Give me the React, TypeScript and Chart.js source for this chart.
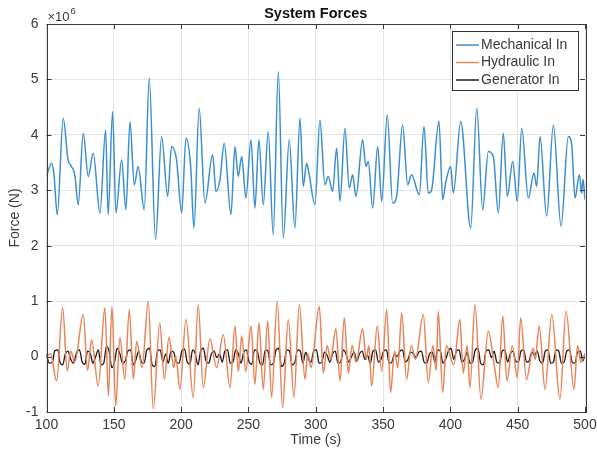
import React, { useEffect, useRef } from "react";
import { Chart, registerables } from "chart.js";

Chart.register(...registerables);

// Values are in units of 10^6 N (axis shows "×10^6")
const mechT = [100, 103.8, 105.5, 108, 112.4, 116, 118.5, 121, 123.6, 127.3, 131, 134.7, 139.7, 143.9, 145.8, 149.1, 151.6, 155.8, 159, 162, 165.2, 168.1, 172.6, 176.3, 181, 185.5, 190, 192.9, 196.6, 200.4, 203.6, 207.1, 209.5, 213.4, 217.7, 223.4, 225.9, 228.8, 232, 237, 240, 242.4, 245, 248.1, 251.9, 254.8, 257.8, 261, 264.7, 268.4, 272.2, 275.9, 280.3, 284.5, 288.3, 290.7, 293.2, 295, 299.4, 303.1, 306.8, 309.3, 312.5, 315.5, 318, 321.7, 324.9, 327.4, 329.9, 334.8, 337.3, 339, 342.3, 346, 349, 353.1, 357.1, 360.1, 364.5, 368.3, 371.2, 376.9, 380.4, 383.6, 386, 391.5, 394.3, 396.7, 400.2, 402.2, 407.7, 415.1, 419.6, 424, 428.2, 431.9, 435.6, 439.3, 442.3, 446.3, 449.7, 453, 457.9, 462.1, 464.1, 466.6, 471.5, 476.5, 482.2, 487.6, 490, 492.6, 495.8, 497.5, 498.5, 500];
const mechV = [3.25, 3.49, 3.3, 2.56, 4.3, 3.55, 3.43, 3.28, 2.74, 4.03, 3.25, 3.67, 2.59, 4.09, 2.56, 4.42, 2.59, 3.55, 2.65, 4.24, 3.1, 3.43, 2.65, 5.02, 2.11, 3.97, 2.89, 3.79, 3.55, 2.59, 3.94, 3.43, 2.32, 4.48, 2.77, 3.64, 2.98, 3.19, 3.85, 2.56, 3.79, 3.25, 3.61, 2.86, 3.91, 2.68, 3.91, 2.74, 4.06, 2.2, 5.14, 2.14, 3.91, 2.32, 4.3, 3.07, 3.49, 3.3, 2.74, 4.27, 3.1, 3.25, 2.98, 3.76, 2.8, 4.12, 3.04, 3.28, 2.89, 3.91, 3.43, 3.52, 2.68, 3.79, 2.8, 4.36, 2.77, 2.89, 4.18, 3.1, 3.28, 2.92, 4.15, 2.95, 3.0, 4.25, 2.83, 3.16, 3.43, 2.95, 4.24, 2.32, 4.48, 2.65, 3.7, 3.61, 2.59, 4.03, 2.89, 3.52, 2.8, 4.12, 2.86, 3.31, 3.07, 3.97, 2.53, 4.18, 2.35, 3.97, 3.85, 2.86, 3.28, 2.95, 3.2, 2.83];

const hydT = [100, 103, 107.5, 112, 115.4, 118, 121, 127.3, 130.5, 133.5, 138.4, 143.4, 146, 148.6, 151.4, 154.5, 158.2, 161.5, 164.5, 167, 171, 175.6, 179.3, 184.2, 187.5, 191, 194.5, 196, 199.1, 203.6, 209, 212.7, 216.4, 221.4, 226.4, 231.3, 236.3, 240, 242.5, 245, 248, 251.9, 254.8, 257.8, 261, 264.3, 267.2, 271.4, 275.4, 279.6, 283.8, 287.8, 292, 294, 296.5, 302.6, 305.6, 308.5, 311, 315, 318, 321.2, 324.2, 327, 330, 334.8, 337.5, 339.5, 341.5, 345.7, 349, 352.7, 355.6, 358.5, 361, 363.8, 367.5, 371, 374, 379.9, 383.6, 387, 389.5, 391, 394.3, 397, 402.5, 407.1, 409.5, 412.5, 414.5, 418.3, 422.7, 428.2, 432, 435.6, 438.9, 442, 446, 449.7, 452.2, 456.5, 461.5, 463, 466, 470.3, 475.3, 481.4, 485.9, 491.8, 494.5, 497, 500];
const hydV = [0.0, 0.05, -0.44, 0.88, -0.26, 0.1, -0.1, 0.76, -0.25, 0.3, -0.53, 0.88, -0.71, 0.91, -0.89, 0.34, -0.41, 0.85, -0.41, 0.27, -0.2, 1.0, -0.95, 0.61, -0.41, 0.35, -0.2, 0.0, -0.59, 0.67, -0.74, 0.94, -0.56, 0.32, -0.2, 0.4, -0.56, 0.55, -0.27, 0.37, -0.27, 0.55, -0.5, 0.61, -0.59, 0.64, -0.74, 1.0, -0.92, 0.67, -0.74, 0.94, -0.41, 0.05, -0.2, 0.91, -0.3, 0.2, -0.05, 0.5, -0.44, 0.7, -0.3, 0.2, -0.1, 0.5, -0.05, 0.2, -0.53, 0.55, -0.27, 0.85, -0.65, 0.1, -0.2, 0.79, -0.41, 0.2, -0.05, 0.76, -0.47, 0.2, -0.25, 0.82, -0.65, 0.2, -0.15, 0.67, -0.3, 0.2, -0.56, 0.94, -0.77, 0.46, -0.05, -0.56, 0.73, -0.44, 0.2, -0.38, 0.7, -0.41, 0.15, -0.05, 0.55, -0.59, 0.76, -0.77, 0.82, -0.59, 0.2, -0.1, 0.05];

const genT = [100, 102, 104.5, 106, 108.5, 110, 112, 114, 116, 118, 120, 122.5, 124.5, 126.5, 128.5, 130.5, 132.5, 134.5, 136.5, 138.5, 140.5, 142.5, 144.5, 146.5, 148.5, 150.5, 152.5, 154.5, 156.5, 158.5, 160.5, 162.5, 164.5, 166.5, 168.5, 170.5, 172.5, 174.5, 176.5, 178.5, 180.5, 182.5, 184.5, 186.5, 188.5, 190.5, 192.5, 194.5, 196.5, 198.5, 200.5, 202.5, 204.5, 206.5, 208.5, 210.5, 212.5, 214.5, 216.5, 218.5, 220.5, 222.5, 224.5, 226.5, 228.5, 230.5, 232.5, 234.5, 236.5, 238.5, 240.5, 242.5, 244.5, 246.5, 248.5, 250.5, 252.5, 254.5, 256.5, 258.5, 260.5, 262.5, 264.5, 266.5, 268.5, 270.5, 272.5, 274.5, 276.5, 278.5, 280.5, 282.5, 284.5, 286.5, 288.5, 290.5, 292.5, 294.5, 296.5, 298.5, 300.5, 302.5, 304.5, 306.5, 308.5, 310.5, 312.5, 314.5, 316.5, 318.5, 320.5, 322.5, 324.5, 326.5, 328.5, 330.5, 332.5, 334.5, 336.5, 338.5, 340.5, 342.5, 344.5, 346.5, 348.5, 350.5, 352.5, 354.5, 356.5, 358.5, 360.5, 362.5, 364.5, 366.5, 368.5, 370.5, 372.5, 374.5, 376.5, 378.5, 380.5, 382.5, 384.5, 386.5, 388.5, 390.5, 392.5, 394.5, 396.5, 398.5, 400.5, 402.5, 404.5, 406.5, 408.5, 410.5, 412.5, 414.5, 416.5, 418.5, 420.5, 422.5, 424.5, 426.5, 428.5, 430.5, 432.5, 434.5, 436.5, 438.5, 440.5, 442.5, 444.5, 446.5, 448.5, 450.5, 452.5, 454.5, 456.5, 458.5, 460.5, 462.5, 464.5, 466.5, 468.5, 470.5, 472.5, 474.5, 476.5, 478.5, 480.5, 482.5, 484.5, 486.5, 488.5, 490.5, 492.5, 494.5, 496.5, 498.5, 500];
const genV = [0.05, -0.12, -0.1, 0.1, 0.12, -0.1, -0.15, 0.05, 0.1, -0.05, -0.12, 0.08, 0.12, -0.1, -0.14, 0.1, 0.06, -0.12, 0.0, 0.12, -0.15, -0.12, 0.18, 0.1, -0.2, -0.1, 0.15, 0.05, -0.12, -0.08, 0.1, 0.12, -0.15, -0.05, 0.1, -0.1, -0.12, 0.12, 0.15, -0.15, -0.18, 0.1, 0.12, -0.1, 0.05, -0.12, 0.1, 0.08, -0.1, -0.12, 0.1, 0.14, -0.1, -0.14, 0.12, 0.05, -0.15, 0.1, 0.15, -0.08, -0.12, 0.05, 0.1, -0.02, 0.05, -0.1, 0.1, 0.12, -0.12, -0.1, 0.12, 0.05, -0.12, 0.08, 0.12, -0.1, -0.14, 0.12, 0.1, -0.12, -0.15, 0.12, 0.1, -0.15, -0.12, 0.12, 0.15, -0.18, -0.12, 0.12, 0.1, -0.15, -0.1, 0.12, 0.1, -0.12, 0.08, -0.05, -0.1, 0.1, 0.12, -0.12, -0.1, 0.08, 0.02, -0.1, 0.05, 0.1, -0.12, -0.1, 0.12, 0.05, -0.1, 0.0, 0.08, -0.08, 0.05, 0.1, -0.05, 0.02, -0.12, 0.1, 0.12, -0.1, -0.05, 0.1, 0.12, -0.12, -0.1, 0.05, 0.0, 0.1, 0.12, -0.1, -0.05, 0.08, 0.05, -0.02, 0.08, 0.1, -0.1, -0.12, 0.05, 0.08, -0.1, 0.12, 0.1, -0.12, -0.05, 0.1, 0.15, -0.05, 0.1, 0.12, -0.1, -0.05, 0.08, -0.12, -0.1, 0.12, 0.15, -0.12, -0.15, 0.1, 0.12, -0.02, 0.1, -0.1, -0.12, 0.1, 0.12, -0.1, 0.05, 0.1, -0.08, -0.1, 0.1, 0.12, -0.1, -0.08, 0.08, 0.02, 0.1, -0.08, -0.12, 0.1, 0.12, -0.12, -0.1, 0.12, 0.1, -0.12, -0.1, 0.1, 0.12, -0.1, -0.12, 0.08, 0.1, -0.08, 0.05];

const seriesLabels = ["Mechanical In", "Hydraulic In", "Generator In"];
const seriesColors = ["#3b8fd0", "#e8845a", "#1c1c1c"];
const xTickValues = [100, 150, 200, 250, 300, 350, 400, 450, 500];
const yTickValues = [-1, 0, 1, 2, 3, 4, 5, 6];
const chartTitle = "System Forces";
const xTitle = "Time (s)";
const yTitle = "Force (N)";
const exponentLabel = "6";

const FONT = "'Liberation Sans', Arial, Helvetica, sans-serif";
const AXIS_COLOR = "#3a3a3a";
const TEXT_COLOR = "#3a3a3a";

const framePlugin = {
  id: "matlabFrame",
  afterDatasetsDraw(chart: any) {
    const { ctx, chartArea: a, scales } = chart;
    ctx.save();
    ctx.strokeStyle = AXIS_COLOR;
    ctx.lineWidth = 1;
    // inward ticks
    const tl = 5;
    ctx.beginPath();
    xTickValues.forEach((v) => {
      const x = Math.round(scales.x.getPixelForValue(v)) + 0.5;
      ctx.moveTo(x, a.bottom);
      ctx.lineTo(x, a.bottom - tl);
      ctx.moveTo(x, a.top);
      ctx.lineTo(x, a.top + tl);
    });
    yTickValues.forEach((v) => {
      const y = Math.round(scales.y.getPixelForValue(v)) + 0.5;
      ctx.moveTo(a.left, y);
      ctx.lineTo(a.left + tl, y);
      ctx.moveTo(a.right, y);
      ctx.lineTo(a.right - tl, y);
    });
    ctx.stroke();
    ctx.strokeRect(Math.round(a.left) + 0.5, Math.round(a.top) + 0.5, Math.round(a.right - a.left), Math.round(a.bottom - a.top));

    // legend box inside the axes (top-right)
    const bx = 452, by = 31, bw = 126, bh = 59;
    ctx.fillStyle = "#ffffff";
    ctx.fillRect(bx, by, bw, bh);
    ctx.strokeStyle = "#333333";
    ctx.strokeRect(bx + 0.5, by + 0.5, bw, bh);
    ctx.font = `14px ${FONT}`;
    ctx.textBaseline = "middle";
    ctx.textAlign = "left";
    seriesLabels.forEach((lab, i) => {
      const y = by + 14 + i * 17.5;
      ctx.strokeStyle = seriesColors[i];
      ctx.lineWidth = 1.5;
      ctx.beginPath();
      ctx.moveTo(bx + 4, y);
      ctx.lineTo(bx + 27, y);
      ctx.stroke();
      ctx.fillStyle = TEXT_COLOR;
      ctx.fillText(lab, bx + 29, y);
    });

    // title
    ctx.fillStyle = "#111111";
    ctx.font = `bold 14.5px ${FONT}`;
    ctx.textAlign = "center";
    ctx.fillText(chartTitle, (a.left + a.right) / 2, 14);

    // exponent label
    ctx.fillStyle = TEXT_COLOR;
    ctx.textAlign = "left";
    ctx.font = `13px ${FONT}`;
    const base = "\u00d710";
    ctx.fillText(base, a.left + 1, 17);
    const w = ctx.measureText(base).width;
    ctx.font = `9.5px ${FONT}`;
    ctx.fillText(exponentLabel, a.left + 2 + w, 11);
    ctx.restore();
  },
};

export default function App() {
  const ref = useRef<HTMLCanvasElement | null>(null);

  useEffect(() => {
    document.body.style.margin = "0";
    const pts = (t: number[], v: number[]) => t.map((x, i) => ({ x, y: v[i] }));
    const chart = new Chart(ref.current as HTMLCanvasElement, {
      type: "line",
      data: {
        datasets: [
          { label: seriesLabels[0], data: pts(mechT, mechV), borderColor: seriesColors[0], borderWidth: 1.5, cubicInterpolationMode: "monotone", pointRadius: 0 },
          { label: seriesLabels[1], data: pts(hydT, hydV), borderColor: seriesColors[1], borderWidth: 1.5, cubicInterpolationMode: "monotone", pointRadius: 0 },
          { label: seriesLabels[2], data: pts(genT, genV), borderColor: seriesColors[2], borderWidth: 1.3, cubicInterpolationMode: "monotone", pointRadius: 0 },
        ],
      } as any,
      options: {
        responsive: false,
        animation: false,
        events: [],
        layout: { padding: { top: 24, right: 12, left: 0, bottom: 0 } },
        plugins: { legend: { display: false }, title: { display: false }, tooltip: { enabled: false } },
        scales: {
          x: {
            type: "linear",
            min: 100,
            max: 500,
            afterBuildTicks: (s: any) => { s.ticks = xTickValues.map((value) => ({ value })); },
            afterFit: (s: any) => { s.height = 43; s.paddingLeft = 0; s.paddingRight = 0; },
            grid: { color: "#e4e4e4", drawTicks: false, lineWidth: 1 },
            border: { display: false },
            ticks: { color: TEXT_COLOR, font: { family: FONT, size: 14 }, padding: 5, maxRotation: 0, autoSkip: false },
            title: { display: true, text: xTitle, color: TEXT_COLOR, font: { family: FONT, size: 14 }, padding: { top: 0, bottom: 6 } },
          },
          y: {
            type: "linear",
            min: -1,
            max: 6,
            afterBuildTicks: (s: any) => { s.ticks = yTickValues.map((value) => ({ value })); },
            afterFit: (s: any) => { s.width = 46.5; },
            grid: { color: "#e4e4e4", drawTicks: false, lineWidth: 1 },
            border: { display: false },
            ticks: { color: TEXT_COLOR, font: { family: FONT, size: 14 }, padding: 8, autoSkip: false, callback: (v: any) => String(v) },
            title: { display: true, text: yTitle, color: TEXT_COLOR, font: { family: FONT, size: 14 }, padding: { top: 7, bottom: 0 } },
          },
        },
      } as any,
      plugins: [framePlugin],
    });
    return () => chart.destroy();
  }, []);

  return <canvas ref={ref} width={597} height={455} style={{ display: "block" }} />;
}
